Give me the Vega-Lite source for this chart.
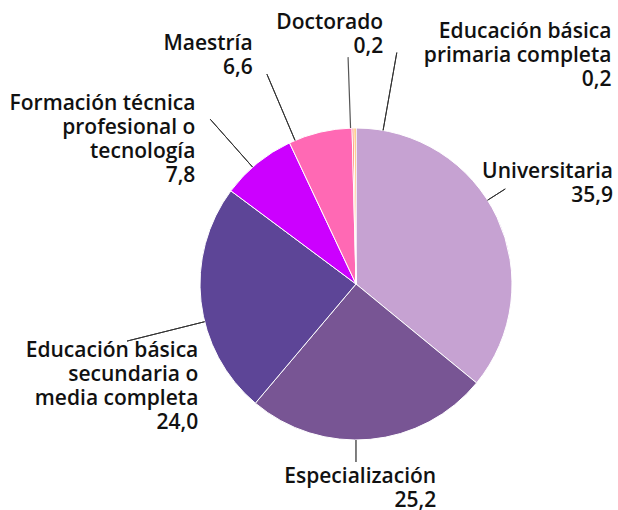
{
  "$schema": "https://vega.github.io/schema/vega-lite/v6.json",
  "width": 524,
  "height": 452,
  "autosize": "none",
  "padding": {"left": 94, "top": 58, "right": 0, "bottom": 0},
  "background": "white",
  "view": {"stroke": null},
  "config": {
    "text": {"font": "Open Sans", "fontSize": 21, "fontWeight": 600, "lineHeight": 24, "lineBreak": "\n", "align": "right", "baseline": "alphabetic", "color": "#111111"}
  },
  "data": {
    "values": [
      {"cat": "Universitaria", "label": "Universitaria\n35,9", "value": 35.9, "idx": 1},
      {"cat": "Especialización", "label": "Especialización\n25,2", "value": 25.2, "idx": 2},
      {"cat": "Educación básica secundaria o media completa", "label": "Educación básica\nsecundaria o\nmedia completa\n24,0", "value": 24.0, "idx": 3},
      {"cat": "Formación técnica profesional o tecnología", "label": "Formación técnica\nprofesional o\ntecnología\n7,8", "value": 7.8, "idx": 4},
      {"cat": "Maestría", "label": "Maestría\n6,6", "value": 6.6, "idx": 5},
      {"cat": "Doctorado", "label": "Doctorado\n0,2", "value": 0.2, "idx": 6},
      {"cat": "Educación básica primaria completa", "label": "Educación básica\nprimaria completa\n0,2", "value": 0.2, "idx": 7}
    ]
  },
  "encoding": {
    "theta": {"field": "value", "type": "quantitative", "stack": true},
    "order": {"field": "idx", "type": "quantitative"}
  },
  "layer": [
    {
      "mark": {"type": "arc", "outerRadius": 156, "stroke": "white", "strokeWidth": 1},
      "encoding": {
        "color": {
          "field": "cat", "type": "nominal", "legend": null,
          "scale": {
            "domain": ["Universitaria", "Especialización", "Educación básica secundaria o media completa", "Formación técnica profesional o tecnología", "Maestría", "Doctorado", "Educación básica primaria completa"],
            "range": ["#c6a2d2", "#785594", "#5d4597", "#cc00ff", "#ff69b4", "#ff6040", "#ffa020"]
          }
        }
      }
    },
    {
      "mark": {"type": "arc", "innerRadius": 156, "outerRadius": 177, "padAngle": 3, "thetaOffset": -0.1253, "fillOpacity": 0, "strokeWidth": 1},
      "encoding": {"detail": {"field": "cat"}, "stroke": {"condition": {"test": "datum.cat === 'Universitaria'", "value": "#333333"}, "value": "transparent"}}
    },
    {
      "mark": {"type": "arc", "innerRadius": 156, "outerRadius": 178, "padAngle": 3, "thetaOffset": 0.0913, "fillOpacity": 0, "strokeWidth": 1},
      "encoding": {"detail": {"field": "cat"}, "stroke": {"condition": {"test": "datum.cat === 'Especialización'", "value": "#555555"}, "value": "transparent"}}
    },
    {
      "mark": {"type": "arc", "innerRadius": 156, "outerRadius": 236, "padAngle": 3, "thetaOffset": -0.1295, "fillOpacity": 0, "strokeWidth": 1},
      "encoding": {"detail": {"field": "cat"}, "stroke": {"condition": {"test": "datum.cat === 'Educación básica secundaria o media completa'", "value": "#333333"}, "value": "transparent"}}
    },
    {
      "mark": {"type": "arc", "innerRadius": 156, "outerRadius": 220, "padAngle": 3, "thetaOffset": -0.0387, "fillOpacity": 0, "strokeWidth": 1},
      "encoding": {"detail": {"field": "cat"}, "stroke": {"condition": {"test": "datum.cat === 'Formación técnica profesional o tecnología'", "value": "#333333"}, "value": "transparent"}}
    },
    {
      "mark": {"type": "arc", "innerRadius": 156, "outerRadius": 228, "padAngle": 3, "thetaOffset": -0.1688, "fillOpacity": 0, "strokeWidth": 1},
      "encoding": {"detail": {"field": "cat"}, "stroke": {"condition": {"test": "datum.cat === 'Maestría'", "value": "#333333"}, "value": "transparent"}}
    },
    {
      "mark": {"type": "arc", "innerRadius": 156, "outerRadius": 227, "padAngle": 3, "thetaOffset": -0.0161, "fillOpacity": 0, "strokeWidth": 1.2},
      "encoding": {"detail": {"field": "cat"}, "stroke": {"condition": {"test": "datum.cat === 'Doctorado'", "value": "#555555"}, "value": "transparent"}}
    },
    {
      "mark": {"type": "arc", "innerRadius": 156, "outerRadius": 235, "padAngle": 3, "thetaOffset": 0.1808, "fillOpacity": 0, "strokeWidth": 1},
      "encoding": {"detail": {"field": "cat"}, "stroke": {"condition": {"test": "datum.cat === 'Educación básica primaria completa'", "value": "#333333"}, "value": "transparent"}}
    },
    {
      "mark": {"type": "text", "radius": 240, "dx": 40, "dy": -3},
      "encoding": {"detail": {"field": "cat"}, "text": {"condition": {"test": "datum.cat === 'Universitaria'", "field": "label"}, "value": ""}}
    },
    {
      "mark": {"type": "text", "radius": 200, "dx": 62, "dy": 0},
      "encoding": {"detail": {"field": "cat"}, "text": {"condition": {"test": "datum.cat === 'Especialización'", "field": "label"}, "value": ""}}
    },
    {
      "mark": {"type": "text", "radius": 200, "dx": 41, "dy": 50},
      "encoding": {"detail": {"field": "cat"}, "text": {"condition": {"test": "datum.cat === 'Educación básica secundaria o media completa'", "field": "label"}, "value": ""}}
    },
    {
      "mark": {"type": "text", "radius": 230, "dx": -15, "dy": 4},
      "encoding": {"detail": {"field": "cat"}, "text": {"condition": {"test": "datum.cat === 'Formación técnica profesional o tecnología'", "field": "label"}, "value": ""}}
    },
    {
      "mark": {"type": "text", "radius": 240, "dx": -48, "dy": 0},
      "encoding": {"detail": {"field": "cat"}, "text": {"condition": {"test": "datum.cat === 'Maestría'", "field": "label"}, "value": ""}}
    },
    {
      "mark": {"type": "text", "radius": 255, "dx": 32, "dy": 0},
      "encoding": {"detail": {"field": "cat"}, "text": {"condition": {"test": "datum.cat === 'Doctorado'", "field": "label"}, "value": ""}}
    },
    {
      "mark": {"type": "text", "radius": 246, "dx": 257, "dy": 0},
      "encoding": {"detail": {"field": "cat"}, "text": {"condition": {"test": "datum.cat === 'Educación básica primaria completa'", "field": "label"}, "value": ""}}
    }
  ]
}
